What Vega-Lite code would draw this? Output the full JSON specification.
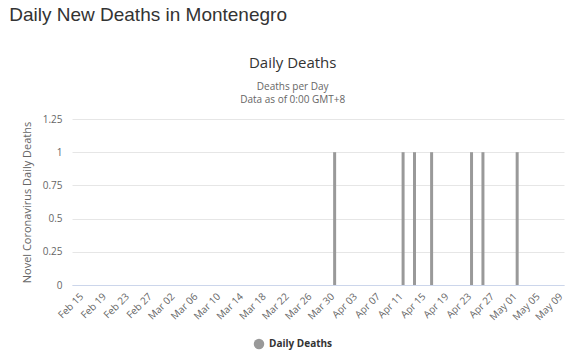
{
  "$schema": "https://vega.github.io/schema/vega-lite/v6.json",
  "background": "white",
  "padding": {"left": 9, "top": 6, "right": 18, "bottom": 4},
  "title": {
    "text": "Daily New Deaths in Montenegro",
    "anchor": "start",
    "frame": "bounds",
    "font": "Liberation Sans",
    "fontSize": 19,
    "fontWeight": "normal",
    "color": "#333333",
    "offset": 31,
    "dx": -12
  },
  "vconcat": [
    {
      "width": 492,
      "height": 166,
      "title": {
        "text": "Daily Deaths",
        "subtitle": ["Deaths per Day", "Data as of 0:00 GMT+8"],
        "anchor": "middle",
        "frame": "bounds",
        "font": "Open Sans",
        "fontSize": 15,
        "fontWeight": "normal",
        "color": "#333333",
        "subtitleFont": "Open Sans",
        "subtitleFontSize": 10,
        "subtitleColor": "#666666",
        "subtitlePadding": 11,
        "subtitleLineHeight": 13,
        "offset": 9
      },
      "data": {
        "values": [
          {"date": "2020-03-31", "deaths": 1, "series": "Daily Deaths"},
          {"date": "2020-04-12", "deaths": 1, "series": "Daily Deaths"},
          {"date": "2020-04-14", "deaths": 1, "series": "Daily Deaths"},
          {"date": "2020-04-17", "deaths": 1, "series": "Daily Deaths"},
          {"date": "2020-04-24", "deaths": 1, "series": "Daily Deaths"},
          {"date": "2020-04-26", "deaths": 1, "series": "Daily Deaths"},
          {"date": "2020-05-02", "deaths": 1, "series": "Daily Deaths"}
        ]
      },
      "mark": {"type": "bar", "width": 3},
      "encoding": {
        "x": {
          "field": "date",
          "type": "temporal",
          "scale": {
            "type": "utc",
            "domain": [
              {"year": 2020, "month": 2, "date": 14, "hours": 20, "utc": true},
              {"year": 2020, "month": 5, "date": 9, "hours": 8, "utc": true}
            ]
          },
          "axis": {
            "title": null,
            "format": "%b %d",
            "labelAngle": -45,
            "labelOverlap": false,
            "labelFont": "Open Sans",
            "labelFontSize": 10,
            "labelColor": "#666666",
            "labelPadding": 6,
            "ticks": false,
            "grid": false,
            "domainColor": "#ccd6eb",
            "values": [
              {"year": 2020, "month": 2, "date": 15, "utc": true},
              {"year": 2020, "month": 2, "date": 19, "utc": true},
              {"year": 2020, "month": 2, "date": 23, "utc": true},
              {"year": 2020, "month": 2, "date": 27, "utc": true},
              {"year": 2020, "month": 3, "date": 2, "utc": true},
              {"year": 2020, "month": 3, "date": 6, "utc": true},
              {"year": 2020, "month": 3, "date": 10, "utc": true},
              {"year": 2020, "month": 3, "date": 14, "utc": true},
              {"year": 2020, "month": 3, "date": 18, "utc": true},
              {"year": 2020, "month": 3, "date": 22, "utc": true},
              {"year": 2020, "month": 3, "date": 26, "utc": true},
              {"year": 2020, "month": 3, "date": 30, "utc": true},
              {"year": 2020, "month": 4, "date": 3, "utc": true},
              {"year": 2020, "month": 4, "date": 7, "utc": true},
              {"year": 2020, "month": 4, "date": 11, "utc": true},
              {"year": 2020, "month": 4, "date": 15, "utc": true},
              {"year": 2020, "month": 4, "date": 19, "utc": true},
              {"year": 2020, "month": 4, "date": 23, "utc": true},
              {"year": 2020, "month": 4, "date": 27, "utc": true},
              {"year": 2020, "month": 5, "date": 1, "utc": true},
              {"year": 2020, "month": 5, "date": 5, "utc": true},
              {"year": 2020, "month": 5, "date": 9, "utc": true}
            ]
          }
        },
        "y": {
          "field": "deaths",
          "type": "quantitative",
          "scale": {"domain": [0, 1.25], "nice": false},
          "axis": {
            "title": "Novel Coronavirus Daily Deaths",
            "titleFont": "Open Sans",
            "titleFontSize": 11,
            "titleFontWeight": "normal",
            "titleColor": "#666666",
            "titlePadding": 10,
            "values": [0, 0.25, 0.5, 0.75, 1, 1.25],
            "format": ".2~f",
            "labelFont": "Open Sans",
            "labelFontSize": 10,
            "labelColor": "#666666",
            "labelPadding": 10,
            "ticks": false,
            "domain": false,
            "gridColor": "#e6e6e6"
          }
        },
        "color": {
          "field": "series",
          "type": "nominal",
          "scale": {"range": ["#999999"]},
          "legend": {
            "title": null,
            "orient": "none",
            "legendX": 181,
            "legendY": 219,
            "symbolType": "circle",
            "symbolSize": 110,
            "labelFont": "Open Sans",
            "labelFontSize": 10,
            "labelFontWeight": "bold",
            "labelColor": "#333333"
          }
        }
      }
    }
  ],
  "config": {
    "view": {"stroke": null}
  }
}
